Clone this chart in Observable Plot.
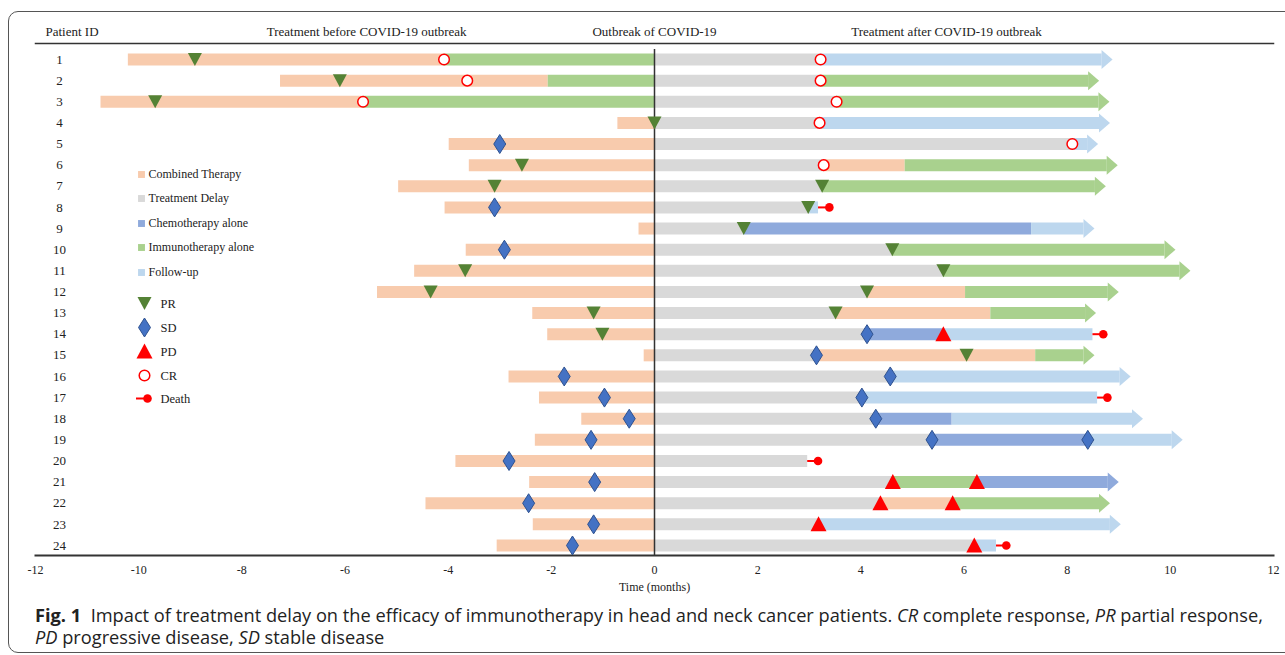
<!DOCTYPE html>
<html>
<head>
<meta charset="utf-8">
<script src="https://cdn.jsdelivr.net/npm/d3@7"></script>
<script src="https://cdn.jsdelivr.net/npm/@observablehq/plot@0.6"></script>
<style>
  body { margin: 0; background: #fff; }
  #wrap { position: relative; width: 1285px; height: 655px; overflow: hidden; background: #fff; }
  #border { position: absolute; left: 8px; top: 11px; width: 1320px; height: 640px; border: 1.5px solid #555; border-radius: 10px; }
  #chart { position: absolute; left: 0; top: 0; }
  #cap { position: absolute; left: 35px; top: 604px; font-family: "Open Sans", sans-serif; font-size: 15.5px; line-height: 22px; color: #222; white-space: nowrap; }
  #cap b { font-weight: 700; }
</style>
</head>
<body>
<div id="wrap">
  <div id="border"></div>
  <div id="chart"></div>
  <div id="cap"><span id="l1"><b>Fig. 1</b>&nbsp; Impact of treatment delay on the efficacy of immunotherapy in head and neck cancer patients. <i>CR</i> complete response, <i>PR</i> partial response,</span><br><span id="l2"><i>PD</i> progressive disease, <i>SD</i> stable disease</span></div>
</div>
<script>
// ---------------- data ----------------
const patients = d3.range(1, 25);
const xTicks = d3.range(-12, 13, 2);
const headerLabels = ["Treatment before COVID-19 outbreak", "Outbreak of COVID-19", "Treatment after COVID-19 outbreak"];

// segments: [patient, start month, end month]
const combined = [[1,-10.2,-4.08],[2,-7.25,-2.06],[3,-10.73,-5.65],[4,-0.71,0],[5,-3.98,0],[6,-3.59,0],[6,3.28,4.86],[7,-4.96,0],[8,-4.06,0],[9,-0.3,0],[10,-3.65,0],[11,-4.65,0],[12,-5.37,0],[12,4.12,6.03],[13,-2.36,0],[13,3.51,6.52],[14,-2.07,0],[15,-0.2,0],[15,3.14,7.39],[16,-2.82,0],[17,-2.23,0],[18,-1.41,0],[19,-2.31,0],[20,-3.85,0],[21,-2.42,0],[22,-4.43,0],[22,4.38,5.78],[23,-2.35,0],[24,-3.05,0]];
const delay = [[1,0,3.22],[2,0,3.22],[3,0,3.53],[4,0,3.2],[5,0,8.1],[6,0,3.28],[7,0,3.25],[8,0,3.0],[9,0,1.73],[10,0,4.61],[11,0,5.6],[12,0,4.12],[13,0,3.51],[14,0,4.12],[15,0,3.14],[16,0,4.57],[17,0,4.02],[18,0,4.29],[19,0,5.38],[20,0,2.97],[21,0,4.62],[22,0,4.38],[23,0,3.18],[24,0,6.2]];
const chemo = [[9,1.73,7.31],[14,4.12,5.6],[18,4.29,5.77],[19,5.38,8.4],[21,6.25,9.0]];
const immuno = [[1,-4.08,0],[2,-2.06,0],[2,3.22,8.62],[3,-5.65,0],[3,3.53,8.82],[6,4.86,8.98],[7,3.25,8.75],[10,4.61,10.1],[11,5.6,10.39],[12,6.03,9.0],[13,6.52,8.56],[15,7.39,8.53],[21,4.62,6.25],[22,5.78,8.83]];
const followup = [[1,3.22,8.88],[4,3.2,8.83],[5,8.1,8.6],[8,3.0,3.18],[9,7.31,8.53],[14,5.6,8.5],[16,4.57,9.23],[17,4.02,8.59],[18,5.77,9.47],[19,8.4,10.24],[23,3.18,9.04],[24,6.2,6.63]];

// events: [patient, month]
const pr = [[1,-8.91],[2,-6.1],[3,-9.68],[4,0],[6,-2.57],[7,-3.1],[7,3.25],[8,2.98],[9,1.73],[10,4.61],[11,-3.67],[11,5.6],[12,-4.34],[12,4.12],[13,-1.18],[13,3.51],[14,-1.01],[15,6.05]];
const sd = [[5,-3.0],[8,-3.1],[10,-2.91],[14,4.12],[15,3.14],[16,-1.75],[16,4.57],[17,-0.97],[17,4.02],[18,-0.49],[18,4.29],[19,-1.23],[19,5.38],[19,8.4],[20,-2.82],[21,-1.16],[22,-2.44],[23,-1.18],[24,-1.59]];
const pd = [[14,5.6],[21,4.62],[21,6.25],[22,4.38],[22,5.78],[23,3.18],[24,6.2]];
const cr = [[1,-4.08],[1,3.22],[2,-3.63],[2,3.22],[3,-5.65],[3,3.53],[4,3.2],[5,8.1],[6,3.28]];
const death = [[8,3.39],[14,8.7],[17,8.78],[20,3.17],[24,6.82]];

const barLegend = ["Combined Therapy", "Treatment Delay", "Chemotherapy alone", "Immunotherapy alone", "Follow-up"];
const markLegend = ["PR", "SD", "PD", "CR", "Death"];

// ---------------- styles ----------------
const colors = { combined: "#F8CBAD", delay: "#D9D9D9", chemo: "#8FAADC", immuno: "#A9D18E", followup: "#BDD7EE" };
const barTypes = ["combined", "delay", "chemo", "immuno", "followup"];
const cPR = "#548235", cSD = "#4472C4", cSDs = "#2F528F", cRed = "#FF0000";

const W = 1285, H = 598;
const mL = 35, mR = 12, mT = 43, mB = 43;
const pxPerMonth = (W - mL - mR) / 24;
const rowTop = 59, rowBottom = 545;
const px2x = px => -12 + (px - mL) / pxPerMonth;
const px2y = px => 1 + (px - rowTop) * 23 / (rowBottom - rowTop);

const sym = pts => ({ draw(ctx) { ctx.moveTo(pts[0][0], pts[0][1]); for (const p of pts.slice(1)) ctx.lineTo(p[0], p[1]); ctx.closePath(); } });
const triDown = sym([[-7, -6.5], [7, -6.5], [0, 6.5]]);
const triUp = sym([[0, -8], [8, 7], [-8, 7]]);
const diamond = sym([[0, -9.5], [6, 0], [0, 9.5], [-6, 0]]);
const arrowHead = sym([[-11, -9.5], [0, 0], [-11, 9.5]]);
const headLen = 11 / pxPerMonth;

// ---------------- derived tables ----------------
const segs = [];
[combined, delay, chemo, immuno, followup].forEach((arr, k) => arr.forEach(([id, s, e]) => segs.push({ id, s, e, type: barTypes[k] })));
const deathIds = new Set(death.map(d => d[0]));
const lastSeg = d3.rollup(segs, v => d3.greatest(v, d => d.e), d => d.id);
const arrows = [...lastSeg.values()].filter(d => !deathIds.has(d.id));
segs.forEach(d => { d.e2 = arrows.includes(d) ? d.e - headLen * 0.95 : d.e; });
const deathRows = death.map(([id, x]) => ({ id, x, from: lastSeg.get(id).e }));

const ev = arr => arr.map(([id, x]) => ({ id, x }));

// legend layout (pixels)
const barLegendPx = [174, 198, 223, 247, 272];
const markLegendPx = [303, 327, 351, 375, 398];
const lgSq = px2x(141), lgTxt = px2x(148), lgMk = px2x(144), lgMkTxt = px2x(160);
const bl = barLegend.map((t, i) => ({ t, y: px2y(barLegendPx[i]), c: colors[barTypes[i]] }));
const ml = markLegend.map((t, i) => ({ t, y: px2y(markLegendPx[i]) }));

const chart = Plot.plot({
  width: W, height: H,
  marginTop: mT, marginBottom: mB, marginLeft: mL, marginRight: mR,
  x: { domain: [-12, 12] },
  y: { type: "linear", domain: [1, 24], range: [rowTop, rowBottom], axis: null },
  color: { type: "identity" },
  style: { fontFamily: "'Liberation Serif', 'Times New Roman', serif", fontSize: "12px", color: "#222", background: "transparent", overflow: "visible" },
  marks: [
    Plot.axisX({ ticks: xTicks, tickSize: 0, tickPadding: 10, tickFormat: d => String(d), label: null, fontSize: 12 }),
    Plot.text(["Time (months)"], { frameAnchor: "bottom", lineAnchor: "middle", dy: 32, fontSize: 12 }),
    Plot.frame({ anchor: "top", stroke: "#333", strokeWidth: 1.5 }),
    Plot.text(["Patient ID"], { frameAnchor: "top-left", lineAnchor: "middle", dx: 10, dy: -12, textAnchor: "start", fontSize: 13 }),
    Plot.text(headerLabels, { x: [-5.58, 0, 5.66], frameAnchor: "top", lineAnchor: "middle", dy: -12, fontSize: 13 }),
    Plot.text(patients, { y: d => d, text: d => String(d), frameAnchor: "left", dx: 24, textAnchor: "middle", fontSize: 13 }),
    // bars
    Plot.ruleY(segs, { y: "id", x1: "s", x2: "e2", stroke: d => colors[d.type], strokeWidth: 12 }),
    Plot.dot(arrows, { x: "e", y: "id", symbol: arrowHead, fill: d => colors[d.type], stroke: "none" }),
    Plot.frame({ anchor: "bottom", stroke: "#333", strokeWidth: 2 }),
    Plot.ruleX([0], { y1: px2y(49), y2: px2y(555), stroke: "#333", strokeWidth: 1.5 }),
    // death
    Plot.ruleY(deathRows, { y: "id", x1: "from", x2: "x", stroke: cRed, strokeWidth: 2 }),
    Plot.dot(deathRows, { x: "x", y: "id", r: 4.3, fill: cRed, stroke: "none" }),
    // events
    Plot.dot(ev(cr), { x: "x", y: "id", r: 5.3, fill: "#fff", stroke: cRed, strokeWidth: 1.5 }),
    Plot.dot(ev(pr), { x: "x", y: "id", symbol: triDown, fill: cPR, stroke: "none" }),
    Plot.dot(ev(sd), { x: "x", y: "id", symbol: diamond, fill: cSD, stroke: cSDs, strokeWidth: 1 }),
    Plot.dot(ev(pd), { x: "x", y: "id", symbol: triUp, fill: cRed, stroke: "none" }),
    // legend
    Plot.dot(bl, { x: () => lgSq, y: "y", symbol: "square", r: 3.9, fill: "c", stroke: "none" }),
    Plot.text(bl, { x: () => lgTxt, y: "y", text: "t", textAnchor: "start", fontSize: 12 }),
    Plot.dot(ml.slice(0, 1), { x: () => lgMk, y: "y", symbol: triDown, fill: cPR, stroke: "none" }),
    Plot.dot(ml.slice(1, 2), { x: () => lgMk, y: "y", symbol: diamond, fill: cSD, stroke: cSDs, strokeWidth: 1 }),
    Plot.dot(ml.slice(2, 3), { x: () => lgMk, y: "y", symbol: triUp, fill: cRed, stroke: "none" }),
    Plot.dot(ml.slice(3, 4), { x: () => lgMk, y: "y", r: 5.3, fill: "#fff", stroke: cRed, strokeWidth: 1.5 }),
    Plot.ruleY(ml.slice(4, 5), { y: "y", x1: () => px2x(136), x2: () => px2x(147), stroke: cRed, strokeWidth: 2 }),
    Plot.dot(ml.slice(4, 5), { x: () => px2x(147), y: "y", r: 4.3, fill: cRed, stroke: "none" }),
    Plot.text(ml, { x: () => lgMkTxt, y: "y", text: "t", textAnchor: "start", fontSize: 12.5 })
  ]
});
document.getElementById("chart").appendChild(chart);

// fit caption line 1 to the reference width by scaling the font size
const cap = document.getElementById("cap");
const l1 = document.getElementById("l1");
const target = 1228;
for (let k = 0; k < 3; k++) {
  const fs = parseFloat(getComputedStyle(cap).fontSize);
  const w = l1.getBoundingClientRect().width;
  cap.style.fontSize = (fs * target / w).toFixed(2) + "px";
}
</script>
</body>
</html>
